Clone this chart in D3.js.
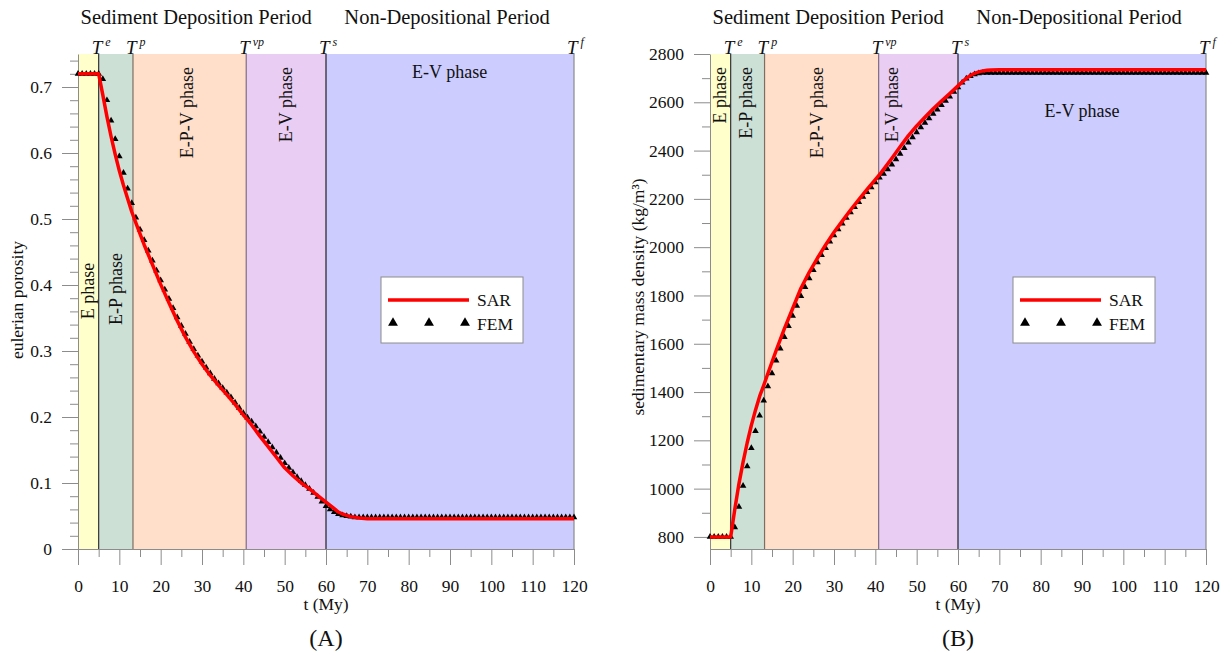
<!DOCTYPE html>
<html>
<head>
<meta charset="utf-8">
<script src="https://cdn.jsdelivr.net/npm/d3@7"></script>
<style>
	body { margin: 0; background: #fff; }
	text { font-family: "Liberation Serif", "Times New Roman", serif; fill: #111; }
</style>
</head>
<body>
<div id="chart"></div>
<script>
// phase boundaries (My)
var boundaryNames = ["e", "p", "vp", "s", "f"];
var boundaryA = [5, 13.3, 40.7, 60, 120];
var boundaryB = [5, 13.2, 40.8, 60, 120];
var phaseNames = ["E phase", "E-P phase", "E-P-V phase", "E-V phase", "E-V phase"];
var phaseColors = ["#ffffcc", "#cde0d6", "#ffdfca", "#e9cdf3", "#ccccfe"];
var boundaryColors = ["#333333", "#7d6e62", "#7f6e80", "#222222", "#8a8a8a"];

// x ticks
var xMajor = [0, 10, 20, 30, 40, 50, 60, 70, 80, 90, 100, 110, 120];
var xMinor = [5, 15, 25, 35, 45, 55, 65, 75, 85, 95, 105, 115];

// panel A ticks
var yMajorA = [0, 0.1, 0.2, 0.3, 0.4, 0.5, 0.6, 0.7];
var yMinorA = [0.02, 0.04, 0.06, 0.08, 0.12, 0.14, 0.16, 0.18, 0.22, 0.24, 0.26, 0.28,
	0.32, 0.34, 0.36, 0.38, 0.42, 0.44, 0.46, 0.48, 0.52, 0.54, 0.56, 0.58,
	0.62, 0.64, 0.66, 0.68, 0.72, 0.74];
// panel B ticks
var yMajorB = [800, 1000, 1200, 1400, 1600, 1800, 2000, 2200, 2400, 2600, 2800];
var yMinorB = [900, 1100, 1300, 1500, 1700, 1900, 2100, 2300, 2500, 2700];

// SAR (analytical) curve knots
var sarTime = [0, 5, 6, 7, 8, 9, 10, 11, 12, 13, 14, 16, 18, 20, 22, 24, 26, 28, 30, 32, 34, 36, 38, 40,
	41, 42, 44, 46, 48, 50, 52, 54, 56, 58, 60, 61, 62, 63, 64, 65, 66, 67, 68, 70, 75, 120];
var sarPorosity = [0.72, 0.72, 0.688, 0.655, 0.625, 0.598, 0.573, 0.551, 0.531, 0.511, 0.494, 0.461,
	0.431, 0.401, 0.373, 0.346, 0.321, 0.299, 0.280, 0.263, 0.248, 0.234, 0.219, 0.203,
	0.196, 0.188, 0.171, 0.155, 0.139, 0.123, 0.111, 0.100, 0.091, 0.081, 0.071, 0.066,
	0.061, 0.056, 0.053, 0.051, 0.049, 0.048, 0.047, 0.046, 0.0458, 0.0458];
var sarDensity = [800, 800, 915, 1020, 1110, 1190, 1262, 1325, 1382, 1428, 1477, 1572,
	1663, 1746, 1830, 1896, 1955, 2010, 2062, 2108, 2154, 2197, 2239, 2280,
	2300, 2322, 2368, 2416, 2462, 2502, 2538, 2573, 2605, 2636, 2668, 2684,
	2699, 2711, 2720, 2726, 2730, 2733, 2734, 2735, 2735, 2735];

// FEM results, one value per My from 0 to 120
var femTime = d3.range(0, 121);
var femPorosity = [0.72, 0.72, 0.72, 0.72, 0.72, 0.72, 0.712, 0.680, 0.649, 0.621,
	0.595, 0.570, 0.546, 0.524, 0.502, 0.484, 0.468, 0.452, 0.437, 0.422,
	0.407, 0.393, 0.379, 0.365, 0.351, 0.338, 0.326, 0.314, 0.303, 0.293,
	0.284, 0.275, 0.266, 0.258, 0.251, 0.244, 0.237, 0.230, 0.222, 0.214,
	0.206, 0.199, 0.193, 0.186, 0.178, 0.170, 0.162, 0.154, 0.146, 0.138,
	0.130, 0.123, 0.116, 0.109, 0.103, 0.097, 0.091, 0.085, 0.079, 0.072,
	0.065, 0.060, 0.056, 0.053, 0.051, 0.050, 0.049, 0.048, 0.048, 0.048,
	0.048, 0.048, 0.048, 0.048, 0.048, 0.048, 0.048, 0.048, 0.048, 0.048,
	0.048, 0.048, 0.048, 0.048, 0.048, 0.048, 0.048, 0.048, 0.048, 0.048,
	0.048, 0.048, 0.048, 0.048, 0.048, 0.048, 0.048, 0.048, 0.048, 0.048,
	0.048, 0.048, 0.048, 0.048, 0.048, 0.048, 0.048, 0.048, 0.048, 0.048,
	0.048, 0.048, 0.048, 0.048, 0.048, 0.048, 0.048, 0.048, 0.048, 0.048,
	0.048];
var femDensity = [800, 800, 800, 800, 800, 800, 840, 925, 1012, 1092,
	1168, 1238, 1303, 1365, 1424, 1478, 1530, 1580, 1628, 1673,
	1716, 1757, 1797, 1835, 1871, 1905, 1937, 1967, 1996, 2023,
	2049, 2074, 2098, 2121, 2144, 2166, 2187, 2208, 2228, 2248,
	2268, 2288, 2304, 2322, 2342, 2364, 2387, 2410, 2433, 2455,
	2476, 2496, 2515, 2534, 2552, 2570, 2588, 2606, 2624, 2643,
	2662, 2682, 2698, 2709, 2716, 2720, 2722, 2722, 2722, 2722,
	2722, 2722, 2722, 2722, 2722, 2722, 2722, 2722, 2722, 2722,
	2722, 2722, 2722, 2722, 2722, 2722, 2722, 2722, 2722, 2722,
	2722, 2722, 2722, 2722, 2722, 2722, 2722, 2722, 2722, 2722,
	2722, 2722, 2722, 2722, 2722, 2722, 2722, 2722, 2722, 2722,
	2722, 2722, 2722, 2722, 2722, 2722, 2722, 2722, 2722, 2722,
	2722];

var svg = d3.select("#chart").append("svg")
	.attr("width", 1228)
	.attr("height", 656);

function drawPanel(p) {
	var x = d3.scaleLinear().domain([0, 120]).range([p.left, p.right]),
		y = d3.scaleLinear().domain(p.yDomain).range([p.bottom, p.top]),
		g = svg.append("g"),
		starts = [0].concat(p.bounds.slice(0, 4));

	// phase backgrounds
	g.selectAll("rect.phase")
		.data(p.bounds)
		.enter().append("rect")
		.attr("class", "phase")
		.attr("x", function(d, i) { return x(starts[i]); })
		.attr("y", p.top)
		.attr("width", function(d, i) { return x(d) - x(starts[i]); })
		.attr("height", p.bottom - p.top)
		.style("fill", function(d, i) { return phaseColors[i]; });

	// axes
	var tickColor = "#8c8c8c";
	g.append("g")
		.attr("transform", "translate(0," + p.bottom + ")")
		.call(d3.axisBottom(x).tickValues(xMajor).tickSize(16).tickSizeOuter(0).tickPadding(15));
	g.append("g")
		.attr("transform", "translate(0," + p.bottom + ")")
		.call(d3.axisBottom(x).tickValues(xMinor).tickSize(8).tickSizeOuter(0).tickFormat(""))
		.select(".domain").remove();
	g.append("g")
		.attr("transform", "translate(" + p.left + ",0)")
		.call(d3.axisLeft(y).tickValues(p.yMajor).tickSize(16).tickSizeOuter(0).tickPadding(10).tickFormat(p.yFormat));
	g.append("g")
		.attr("transform", "translate(" + p.left + ",0)")
		.call(d3.axisLeft(y).tickValues(p.yMinor).tickSize(8).tickSizeOuter(0).tickFormat(""))
		.select(".domain").remove();
	g.selectAll(".tick line, .domain").attr("stroke", tickColor);
	g.selectAll(".tick text")
		.style("font-family", "Liberation Serif")
		.style("font-size", "17.5px")
		.attr("fill", "#111");

	// boundary lines
	g.selectAll("line.bound")
		.data(p.bounds)
		.enter().append("line")
		.attr("class", "bound")
		.attr("x1", function(d) { return x(d); })
		.attr("x2", function(d) { return x(d); })
		.attr("y1", p.top)
		.attr("y2", p.bottom)
		.attr("stroke", function(d, i) { return boundaryColors[i]; })
		.attr("stroke-width", 1.2);

	// boundary labels T^x
	var tl = g.selectAll("text.tlab")
		.data(p.bounds)
		.enter().append("text")
		.attr("class", "tlab")
		.attr("x", function(d) { return x(d) - 7; })
		.attr("y", p.top)
		.style("font-size", "19px")
		.style("font-style", "italic");
	tl.append("tspan").text("T");
	tl.append("tspan")
		.attr("dx", 3)
		.attr("dy", -8)
		.style("font-size", "12px")
		.text(function(d, i) { return boundaryNames[i]; });

	// period titles
	g.append("text")
		.attr("x", x(28.6)).attr("y", 24)
		.attr("text-anchor", "middle")
		.style("font-size", "20.5px")
		.text("Sediment Deposition Period");
	g.append("text")
		.attr("x", x(89.3)).attr("y", 24)
		.attr("text-anchor", "middle")
		.style("font-size", "20.5px")
		.text("Non-Depositional Period");

	// phase labels (first four vertical)
	p.phaseLabels.forEach(function(l, i) {
		g.append("text")
			.attr("transform", "translate(" + (x(l.t) + 6) + "," + (p.top + l.dy) + ") rotate(-90)")
			.attr("text-anchor", l.anchor)
			.style("font-size", "18px")
			.text(phaseNames[i]);
	});
	g.append("text")
		.attr("x", x(p.evLabel.t))
		.attr("y", p.top + p.evLabel.dy)
		.attr("text-anchor", "middle")
		.style("font-size", "18px")
		.text(phaseNames[4]);

	// FEM markers
	var tri = d3.symbol().type(d3.symbolTriangle).size(19);
	g.selectAll("path.fem")
		.data(femTime)
		.enter().append("path")
		.attr("class", "fem")
		.attr("d", tri)
		.attr("transform", function(d, i) { return "translate(" + x(d) + "," + y(p.fem[i]) + ")"; })
		.style("fill", "#000");

	// SAR line
	var line = d3.line()
		.x(function(d) { return x(d); })
		.y(function(d, i) { return y(p.sar[i]); });
	g.append("path")
		.datum(sarTime)
		.attr("d", line)
		.attr("fill", "none")
		.attr("stroke", "#ff0000")
		.attr("stroke-width", 3.5)
		.attr("stroke-linejoin", "round");

	// legend
	var lx = p.left + 303, ly = 277;
	var leg = g.append("g").attr("transform", "translate(" + lx + "," + ly + ")");
	leg.append("rect")
		.attr("width", 142).attr("height", 66)
		.attr("fill", "#fff")
		.attr("stroke", "#8c8c8c");
	leg.append("line")
		.attr("x1", 7).attr("x2", 88).attr("y1", 23).attr("y2", 23)
		.attr("stroke", "#ff0000").attr("stroke-width", 3.5);
	leg.append("text").attr("x", 96).attr("y", 29).style("font-size", "17.5px").text("SAR");
	leg.selectAll("path.lt")
		.data([12, 48, 84])
		.enter().append("path")
		.attr("d", d3.symbol().type(d3.symbolTriangle).size(42))
		.attr("transform", function(d) { return "translate(" + d + ",46)"; })
		.style("fill", "#000");
	leg.append("text").attr("x", 96).attr("y", 53).style("font-size", "17.5px").text("FEM");

	// axis titles
	g.append("text")
		.attr("x", (p.left + p.right) / 2).attr("y", 610)
		.attr("text-anchor", "middle")
		.style("font-size", "17.5px")
		.text("t (My)");
	g.append("text")
		.attr("transform", "translate(" + p.yLabelX + "," + p.yLabelY + ") rotate(-90)")
		.attr("text-anchor", "middle")
		.style("font-size", "17.5px")
		.text(p.yLabel);
	g.append("text")
		.attr("x", (p.left + p.right) / 2).attr("y", 646)
		.attr("text-anchor", "middle")
		.style("font-size", "24px")
		.text(p.tag);
}

drawPanel({
	left: 78, right: 574, top: 54, bottom: 549,
	yDomain: [0, 0.75],
	yMajor: yMajorA, yMinor: yMinorA,
	yFormat: function(d) { return d === 0 ? "0" : d.toFixed(1); },
	bounds: boundaryA,
	sar: sarPorosity, fem: femPorosity,
	phaseLabels: [
		{ t: 2.5, dy: 237, anchor: "middle" },
		{ t: 9.2, dy: 235, anchor: "middle" },
		{ t: 26.3, dy: 13, anchor: "end" },
		{ t: 50.3, dy: 13, anchor: "end" }
	],
	evLabel: { t: 89.9, dy: 24 },
	yLabel: "eulerian porosity", yLabelX: 23, yLabelY: 300,
	tag: "(A)"
});

drawPanel({
	left: 710, right: 1206, top: 54, bottom: 549,
	yDomain: [750, 2800],
	yMajor: yMajorB, yMinor: yMinorB,
	yFormat: function(d) { return String(d); },
	bounds: boundaryB,
	sar: sarDensity, fem: femDensity,
	phaseLabels: [
		{ t: 2.5, dy: 13, anchor: "end" },
		{ t: 8.7, dy: 13, anchor: "end" },
		{ t: 26.0, dy: 13, anchor: "end" },
		{ t: 44.0, dy: 13, anchor: "end" }
	],
	evLabel: { t: 90, dy: 63 },
	yLabel: "sedimentary mass density (kg/m³)", yLabelX: 644, yLabelY: 297,
	tag: "(B)"
});
</script>
</body>
</html>
